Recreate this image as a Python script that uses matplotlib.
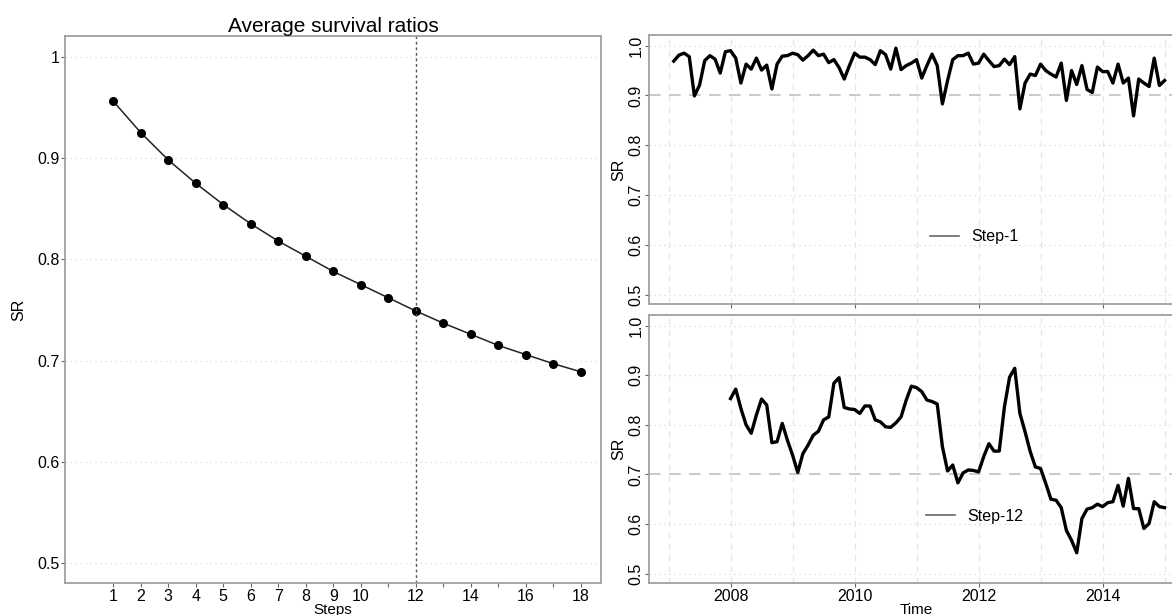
import numpy as np
import pandas as pd
import matplotlib
matplotlib.use("Agg")
import matplotlib.pyplot as plt

plt.rcParams['font.family'] = ['Liberation Sans', 'DejaVu Sans']

# average survival ratio per step
steps = list(range(1, 19))
avg_sr = [0.956, 0.925, 0.898, 0.875, 0.854, 0.835, 0.818, 0.803, 0.788,
          0.775, 0.762, 0.749, 0.737, 0.726, 0.715, 0.706, 0.697, 0.689]
step_ticks = list(range(1, 19))
step_labels = [str(s) if (s <= 10 or s % 2 == 0) else '' for s in step_ticks]

# monthly survival ratio, step 1 (from 2007-02) and step 12 (from 2008-01)
sr_step1 = [0.969, 0.981, 0.985, 0.978, 0.899, 0.921, 0.970, 0.980, 0.973, 0.945,
            0.988, 0.990, 0.975, 0.925, 0.963, 0.953, 0.975, 0.951, 0.961, 0.913,
            0.963, 0.979, 0.980, 0.985, 0.982, 0.971, 0.980, 0.991, 0.980, 0.983,
            0.966, 0.972, 0.956, 0.933, 0.960, 0.985, 0.977, 0.977, 0.972, 0.962,
            0.990, 0.982, 0.953, 0.995, 0.952, 0.960, 0.965, 0.972, 0.935, 0.960,
            0.983, 0.960, 0.883, 0.930, 0.972, 0.980, 0.980, 0.985, 0.963, 0.965,
            0.983, 0.970, 0.958, 0.960, 0.973, 0.962, 0.978, 0.873, 0.925, 0.943,
            0.940, 0.963, 0.950, 0.943, 0.937, 0.965, 0.890, 0.950, 0.922, 0.960,
            0.912, 0.906, 0.957, 0.948, 0.948, 0.925, 0.963, 0.925, 0.935, 0.859,
            0.933, 0.925, 0.918, 0.975, 0.920, 0.930]
sr_step12 = [0.853, 0.872, 0.833, 0.800, 0.783, 0.820, 0.852, 0.840, 0.764, 0.766,
             0.803, 0.769, 0.739, 0.704, 0.742, 0.759, 0.779, 0.787, 0.810, 0.816,
             0.884, 0.895, 0.835, 0.832, 0.831, 0.823, 0.838, 0.838, 0.810, 0.806,
             0.796, 0.795, 0.804, 0.816, 0.850, 0.878, 0.875, 0.867, 0.850, 0.847,
             0.842, 0.756, 0.707, 0.719, 0.683, 0.703, 0.709, 0.708, 0.705, 0.736,
             0.762, 0.747, 0.747, 0.836, 0.896, 0.914, 0.823, 0.786, 0.746, 0.715,
             0.712, 0.682, 0.650, 0.648, 0.633, 0.587, 0.567, 0.542, 0.611, 0.630,
             0.633, 0.640, 0.635, 0.643, 0.645, 0.678, 0.636, 0.692, 0.631, 0.631,
             0.591, 0.601, 0.645, 0.635, 0.633]
ref_step1 = 0.9
ref_step12 = 0.7

sr_ticks = [0.5, 0.6, 0.7, 0.8, 0.9, 1.0]
year_grid = list(range(2007, 2016))
year_ticks = [2008, 2010, 2012, 2014]


def decimal_years(start, n):
    d = pd.date_range(start, periods=n, freq='MS')
    return d.year + (d.month - 1) / 12.0


t1 = decimal_years('2007-02-01', len(sr_step1))
t12 = decimal_years('2008-01-01', len(sr_step12))

FRAME = '#a0a0a0'
GRID = '#dcdcdc'

fig = plt.figure(figsize=(11.72, 6.15), dpi=100)

# left panel
ax = fig.add_axes([0.0558, 0.052, 0.457, 0.8895])
ax.plot(steps, avg_sr, color='#222222', lw=1.1, marker='o', ms=5.5,
        mfc='black', mec='black')
ax.axvline(12, color='#555555', lw=1.0, ls=(0, (2, 2)))
for v in sr_ticks:
    ax.axhline(v, color=GRID, lw=0.9, ls=(0, (1, 3)), zorder=0)
ax.set_xlim(-0.74, 18.73)
ax.set_ylim(0.4806, 1.0204)
ax.set_xticks(step_ticks)
ax.set_xticklabels(step_labels)
ax.set_yticks(sr_ticks)
ax.set_yticklabels(['0.5', '0.6', '0.7', '0.8', '0.9', '1'])
ax.set_title('Average survival ratios', fontsize=15, pad=2)
ax.set_xlabel('Steps', fontsize=11, labelpad=-0.5)
ax.set_ylabel('SR', fontsize=11.5, labelpad=8)
ax.tick_params(labelsize=11.5, length=3, color='#666666', pad=1)
for s in ax.spines.values():
    s.set_color(FRAME)
    s.set_linewidth(1.3)


def ts_panel(rect, t, sr, ref, label, show_x):
    a = fig.add_axes(rect)
    for v in sr_ticks:
        if abs(v - ref) > 1e-9:
            a.axhline(v, color=GRID, lw=0.9, ls=(0, (1, 3)), zorder=0)
    for y in year_grid:
        a.axvline(y, color='#e6e6e6', lw=0.9, ls=(0, (5, 4)), zorder=0)
    a.axhline(ref, color='#c0c0c0', lw=1.2, ls=(0, (7, 5)), zorder=1)
    a.plot(t, sr, color='black', lw=2.4, zorder=3, label=label)
    a.set_xlim(2006.689, 2015.29)
    a.set_ylim(0.481, 1.0215)
    a.set_yticks(sr_ticks)
    a.set_yticklabels(['0.5', '0.6', '0.7', '0.8', '0.9', '1.0'],
                      rotation=90, va='center')
    a.set_xticks(year_ticks)
    if show_x:
        a.set_xlabel('Time', fontsize=11, labelpad=-0.5)
    else:
        a.set_xticklabels([])
        a.tick_params(axis='x', length=0)
    a.set_ylabel('SR', fontsize=11.5, labelpad=2)
    a.tick_params(labelsize=11.5, length=3, color='#666666', pad=1)
    for s in a.spines.values():
        s.set_color(FRAME)
        s.set_linewidth(1.3)
    h, = a.plot([], [], color='#666666', lw=1.2)
    a.legend([h], [label], loc='center', bbox_to_anchor=(0.61, 0.25),
             frameon=False, fontsize=11.5, handlelength=1.8, handletextpad=0.8)
    return a


ts_panel([0.554, 0.5057, 0.455, 0.4374], t1, sr_step1, ref_step1, 'Step-1', False)
ts_panel([0.554, 0.052, 0.455, 0.4358], t12, sr_step12, ref_step12, 'Step-12', True)

fig.savefig('out.png', dpi=100)
